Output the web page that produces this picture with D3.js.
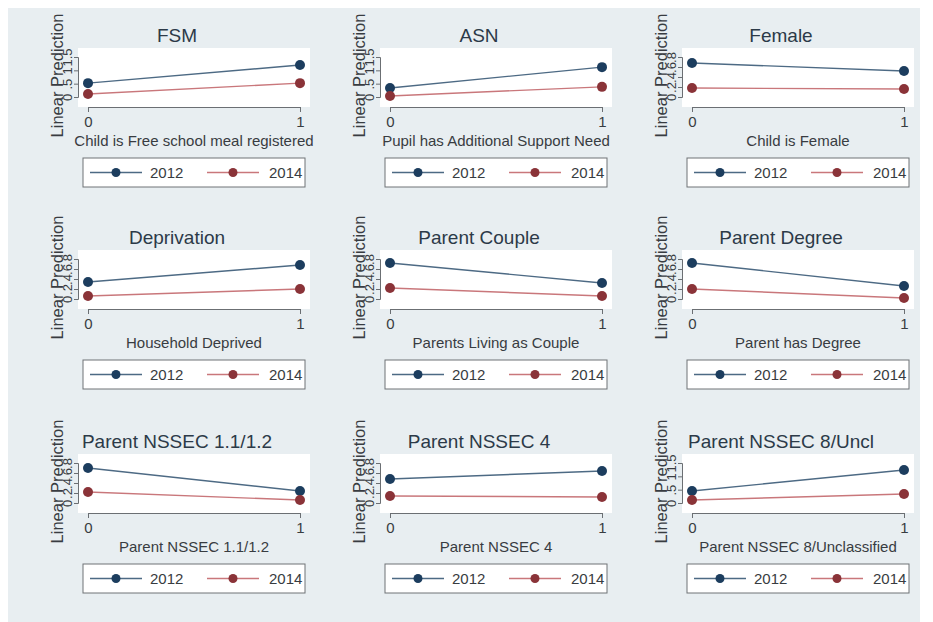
<!DOCTYPE html>
<html>
<head>
<meta charset="utf-8">
<script src="https://cdn.jsdelivr.net/npm/d3@7"></script>
<style>
  html, body { margin: 0; padding: 0; background: #ffffff; }
  svg text { font-family: "Liberation Sans", Arial, Helvetica, sans-serif; }
</style>
</head>
<body>
<svg id="chart" width="933" height="622"></svg>
<script>
// Predicted outcome by year across nine pupil / household characteristics
const panelTitles = ["FSM", "ASN", "Female", "Deprivation", "Parent Couple", "Parent Degree",
  "Parent NSSEC 1.1/1.2", "Parent NSSEC 4", "Parent NSSEC 8/Uncl"];
const xTitles = ["Child is Free school meal registered", "Pupil has Additional Support Need",
  "Child is Female", "Household Deprived", "Parents Living as Couple", "Parent has Degree",
  "Parent NSSEC 1.1/1.2", "Parent NSSEC 4", "Parent NSSEC 8/Unclassified"];
const xCategories = [0, 1];
const seriesNames = ["2012", "2014"];
const pred2012 = [[0.52, 1.2], [0.34, 1.12], [0.68, 0.52], [0.34, 0.68], [0.72, 0.32],
  [0.72, 0.26], [0.70, 0.24], [0.48, 0.64], [0.45, 1.24]];
const pred2014 = [[0.11, 0.52], [0.04, 0.38], [0.18, 0.16], [0.06, 0.20], [0.22, 0.06],
  [0.20, 0.02], [0.22, 0.06], [0.14, 0.12], [0.11, 0.34]];
const yTickValues = [[0, 0.5, 1, 1.5], [0, 0.5, 1, 1.5], [0, 0.2, 0.4, 0.6, 0.8],
  [0, 0.2, 0.4, 0.6, 0.8], [0, 0.2, 0.4, 0.6, 0.8], [0, 0.2, 0.4, 0.6, 0.8],
  [0, 0.2, 0.4, 0.6, 0.8], [0, 0.2, 0.4, 0.6, 0.8], [0, 0.5, 1, 1.5]];
const yTitle = "Linear Prediction";

const markerColors = ["#1c3d5e", "#8a3338"];
const lineColors = ["#4d6a84", "#c9777b"];
const textColor = "#383c41";

const svg = d3.select("#chart");

// graph region background
svg.append("rect").attr("x", 8).attr("y", 8).attr("width", 912).attr("height", 614)
  .attr("fill", "#e8eef1");

const colAxisX = [78, 380, 682];
const rowTop = [48, 250, 454];
const plotW = 232, plotH = 59;

const fmt = d => {
  const s = d3.format("~g")(d);
  return s.startsWith("0.") ? s.slice(1) : s;
};

panelTitles.forEach((title, i) => {
  const col = i % 3, row = Math.floor(i / 3);
  const x0 = colAxisX[col], y0 = rowTop[row];
  const g = svg.append("g").attr("transform", `translate(${x0},${y0})`);
  const ticks = yTickValues[i];

  const x = d3.scaleLinear().domain([0, 1]).range([10, plotW - 10]);
  const y = d3.scaleLinear().domain([ticks[0], ticks[ticks.length - 1]]).range([plotH - 10, 9]);

  // plot region
  g.append("rect").attr("width", plotW).attr("height", plotH).attr("fill", "#ffffff");

  // panel title, centred on the sub-graph
  g.append("text").attr("x", plotW / 2 - 17).attr("y", -6)
    .attr("text-anchor", "middle").attr("font-size", 19).attr("fill", "#2c3a48")
    .text(title);

  // x axis
  const xAxis = g.append("g").attr("transform", `translate(0,${plotH})`)
    .call(d3.axisBottom(x).tickValues(xCategories).tickSize(5).tickPadding(4).tickFormat(d3.format("d")));
  xAxis.select(".domain").attr("stroke", "#6b6f73");
  xAxis.selectAll(".tick line").attr("stroke", "#6b6f73");
  xAxis.selectAll(".tick text").attr("font-size", 15).attr("fill", textColor)
    .attr("font-family", "Liberation Sans, Arial, sans-serif");

  g.append("text").attr("x", plotW / 2).attr("y", plotH + 39)
    .attr("text-anchor", "middle").attr("font-size", 15).attr("fill", textColor)
    .text(xTitles[i]);

  // y axis with vertical labels
  const yAxis = g.append("g")
    .call(d3.axisLeft(y).tickValues(ticks).tickSize(4).tickFormat(fmt));
  yAxis.select(".domain").attr("stroke", "#6b6f73");
  yAxis.selectAll(".tick line").attr("stroke", "#6b6f73");
  yAxis.selectAll(".tick text")
    .attr("font-size", 13).attr("fill", textColor)
    .attr("font-family", "Liberation Sans, Arial, sans-serif")
    .attr("x", null).attr("dy", null)
    .attr("text-anchor", "middle")
    .attr("transform", "translate(-6,0) rotate(-90)");

  g.append("text")
    .attr("transform", `translate(-15,${plotH / 2 - 2}) rotate(-90)`)
    .attr("text-anchor", "middle").attr("font-size", 16.5).attr("fill", textColor)
    .text(yTitle);

  // series lines and markers
  [pred2012[i], pred2014[i]].forEach((vals, s) => {
    const pts = xCategories.map((c, k) => [x(c), y(vals[k])]);
    g.append("path").attr("d", d3.line()(pts)).attr("fill", "none")
      .attr("stroke", lineColors[s]).attr("stroke-width", 1.4);
    g.selectAll(null).data(pts).enter().append("circle")
      .attr("cx", d => d[0]).attr("cy", d => d[1]).attr("r", 5)
      .attr("fill", markerColors[s]);
  });

  // legend
  const lw = 222, lh = 29;
  const lg = g.append("g").attr("transform", `translate(${plotW / 2 - lw / 2},${plotH + 51})`);
  lg.append("rect").attr("width", lw).attr("height", lh).attr("fill", "#ffffff")
    .attr("stroke", "#6e7276").attr("stroke-width", 1);
  const keyStart = [7, 124];
  seriesNames.forEach((name, s) => {
    const kx = keyStart[s];
    lg.append("line").attr("x1", kx).attr("x2", kx + 52).attr("y1", lh / 2).attr("y2", lh / 2)
      .attr("stroke", lineColors[s]).attr("stroke-width", 1.4);
    lg.append("circle").attr("cx", kx + 26).attr("cy", lh / 2).attr("r", 4.5)
      .attr("fill", markerColors[s]);
    lg.append("text").attr("x", kx + 60 + (s === 1 ? 2 : 0)).attr("y", lh / 2 + 5.5)
      .attr("font-size", 15).attr("fill", textColor).text(name);
  });
});
</script>
</body>
</html>
